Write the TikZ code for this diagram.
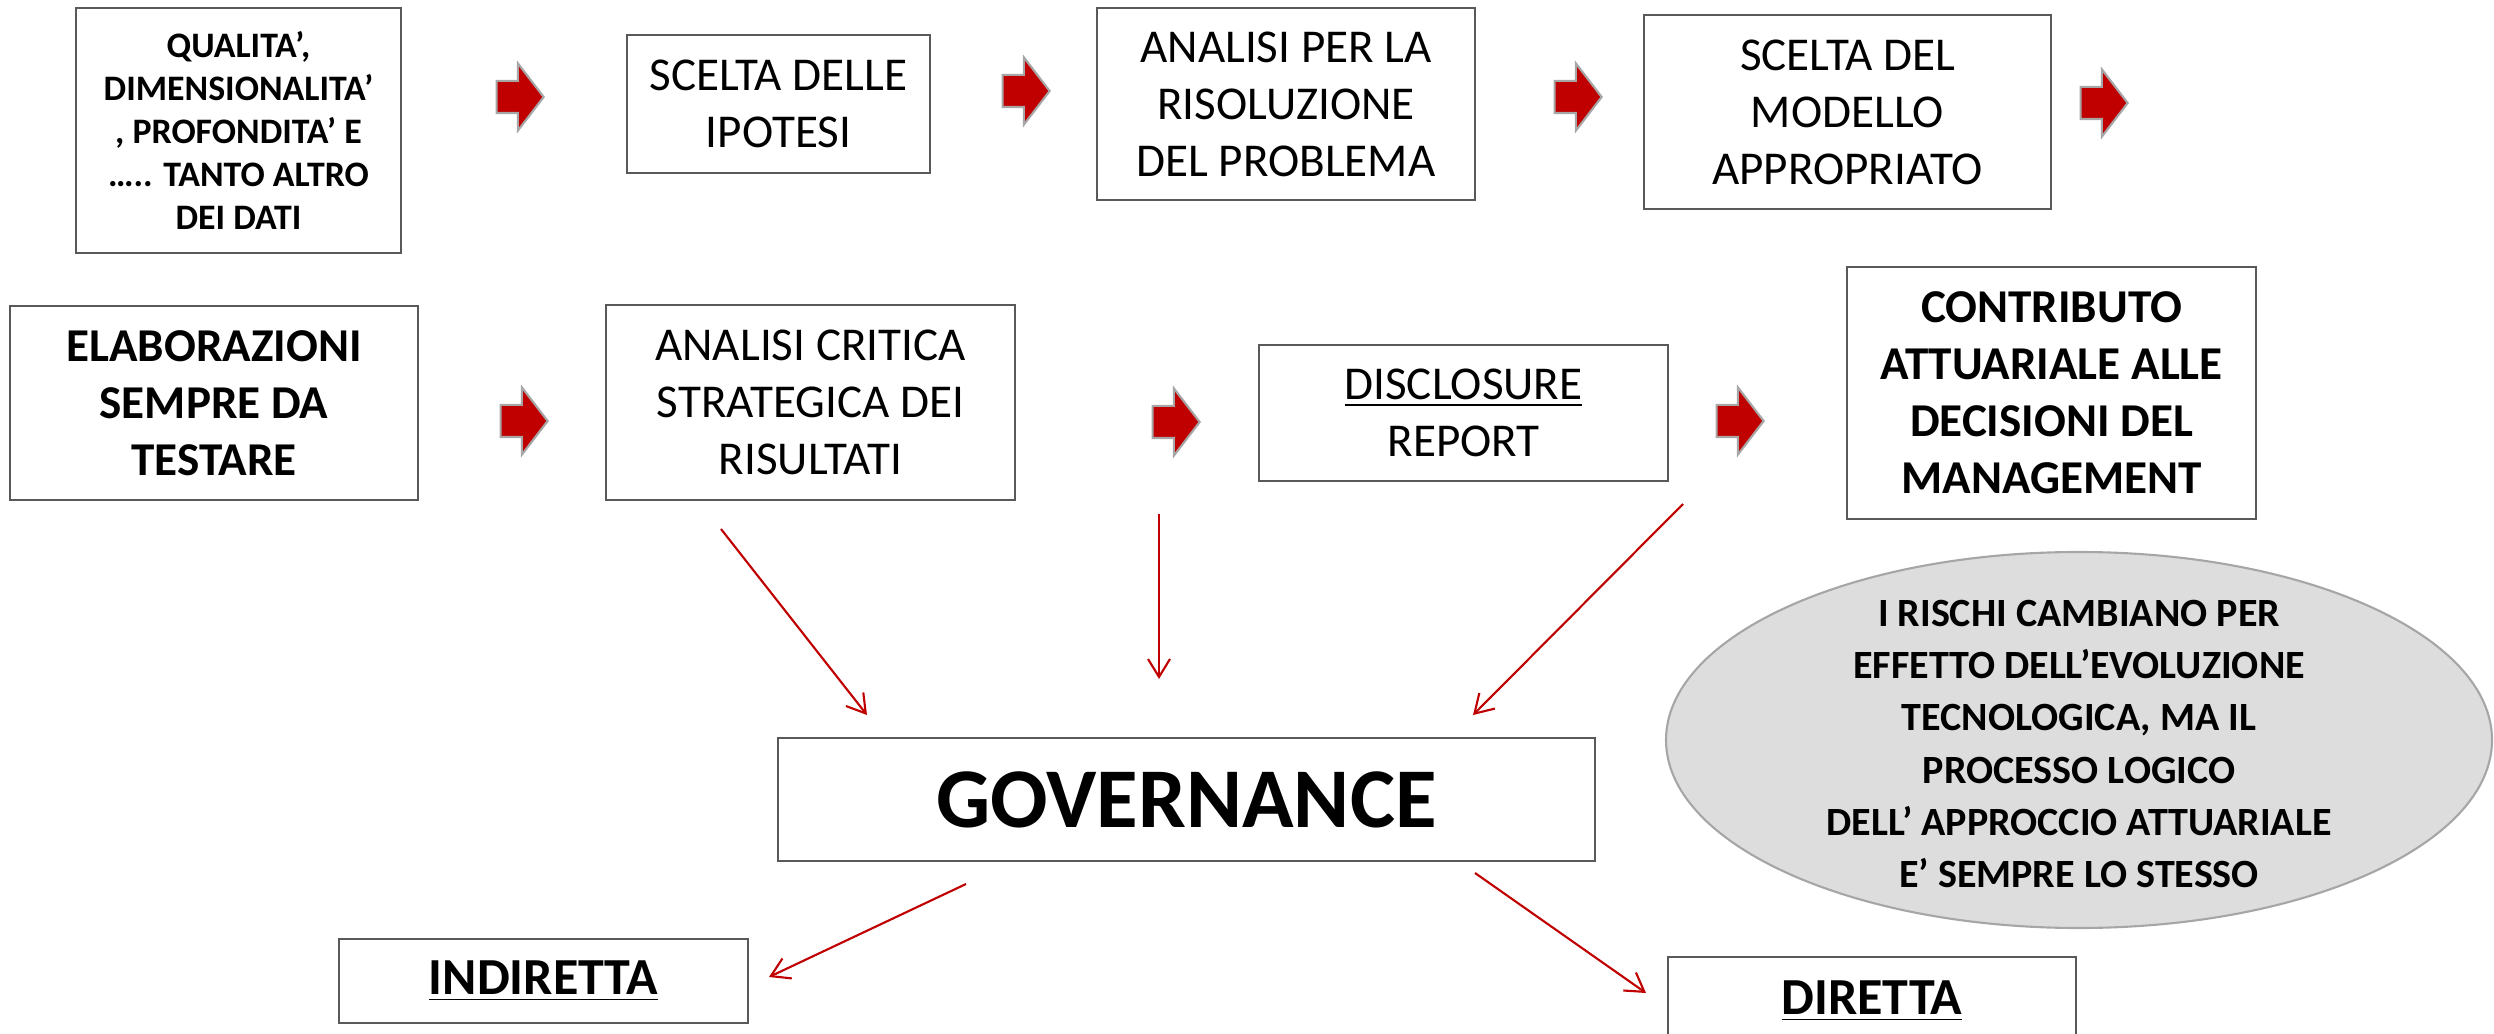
\documentclass[tikz,border=0pt]{standalone}
\usepackage{fontspec}
\setmainfont{Carlito}
\usetikzlibrary{shapes.arrows,shapes.geometric,arrows.meta}
\definecolor{arrowred}{RGB}{192,0,0}
\definecolor{boxgray}{RGB}{89,89,89}
\definecolor{arrowgray}{RGB}{166,166,166}
\definecolor{ovalfill}{RGB}{221,221,221}
\begin{document}
\begin{tikzpicture}\tikzstyle{every node}=[font=\fontsize{13.4}{16.2}\selectfont]
\tikzstyle{box}=[draw=boxgray, line width=0.6pt, align=center, inner sep=0pt]
\tikzstyle{blockarrow}=[single arrow, draw=arrowgray, fill=arrowred, line width=0.6pt, inner sep=0pt, text height=0.3cm, text depth=0pt, minimum height=0.47cm, single arrow head extend=0.175cm, single arrow tip angle=105]
\tikzstyle{link}=[draw=arrowred, line width=0.6pt, -{Straight Barb[length=1.8mm,width=2.2mm]}]
\useasboundingbox (0,0) rectangle (24.94,-10.34);
% dati
  \node[box, minimum width=3.25cm, minimum height=2.45cm, font=\fontsize{10.2}{12.2}\selectfont\bfseries] (dati) at (2.385,-1.305)%
{%
  QUALITA’,\\ DIMENSIONALITA’\\ , PROFONDITA’ E\\ ….. TANTO ALTRO\\ DEI DATI
};
% ipotesi
  \node[box, minimum width=3.03cm, minimum height=1.38cm] (ipotesi) at (7.785,-1.04)%
{%
  SCELTA DELLE\\ IPOTESI
};
% analisi
  \node[box, minimum width=3.78cm, minimum height=1.92cm] (analisi) at (12.86,-1.04)%
{%
  ANALISI PER LA\\ RISOLUZIONE\\ DEL PROBLEMA
};
% modello
  \node[box, minimum width=4.07cm, minimum height=1.94cm] (modello) at (18.475,-1.12)%
{%
  SCELTA DEL\\ MODELLO\\ APPROPRIATO
};
% elaborazioni
  \node[box, minimum width=4.08cm, minimum height=1.94cm, font=\fontsize{13.4}{16.2}\selectfont\bfseries] (elab) at (2.14,-4.03)%
{%
  ELABORAZIONI\\ SEMPRE DA\\ TESTARE
};
% analisi critica
  \node[box, minimum width=4.09cm, minimum height=1.95cm] (critica) at (8.105,-4.025)%
{%
  ANALISI CRITICA\\ STRATEGICA DEI\\ RISULTATI
};
% disclosure
  \node[box, minimum width=4.09cm, minimum height=1.36cm] (report) at (14.635,-4.13)%
{%
  \underline{DISCLOSURE}\\ REPORT
};
% contributo
  \node[box, minimum width=4.09cm, minimum height=2.52cm, font=\fontsize{13.4}{16.2}\selectfont\bfseries] (contrib) at (20.515,-3.93)%
{%
  CONTRIBUTO\\ ATTUARIALE ALLE\\ DECISIONI DEL\\ MANAGEMENT
};
% governance
  \node[box, minimum width=8.17cm, minimum height=1.23cm, font=\fontsize{24.2}{29}\selectfont\bfseries] (gov) at (11.865,-7.995) {GOVERNANCE};
% indiretta / diretta
  \node[box, minimum width=4.09cm, minimum height=0.84cm, font=\fontsize{14.8}{17.8}\selectfont\bfseries] (indir) at (5.435,-9.81) {\underline{INDIRETTA}};
  \node[box, minimum width=4.08cm, minimum height=0.88cm, font=\fontsize{14.8}{17.8}\selectfont\bfseries] (dir) at (18.72,-10.01) {\underline{DIRETTA}};
% rischi
  \node[ellipse, draw=arrowgray, fill=ovalfill, line width=0.6pt, inner sep=0pt, minimum width=8.26cm, minimum height=3.76cm] (rischi) at (20.79,-7.40) {};
  \node[align=center, font=\fontsize{11.4}{14.9}\selectfont\bfseries] (rischitxt) at ([yshift=-0.04cm]rischi.center)%
{%
  I RISCHI CAMBIANO PER\\ EFFETTO DELL’EVOLUZIONE\\ TECNOLOGICA, MA IL\\ PROCESSO LOGICO\\ DELL’ APPROCCIO ATTUARIALE\\ E’ SEMPRE LO STESSO
};
% frecce
  \node[blockarrow] (ar1) at (5.14,-0.97) {};
  \node[blockarrow] (ar2) at (10.20,-0.91) {};
  \node[blockarrow] (ar3) at (15.72,-0.97) {};
  \node[blockarrow] (ar4) at (20.98,-1.03) {};
  \node[blockarrow] (ar5) at (5.18,-4.21) {};
  \node[blockarrow] (ar6) at (11.70,-4.22) {};
  \node[blockarrow] (ar7) at (17.34,-4.21) {};
%%%%%%%%%%%%%%%%
\coordinate (c1a) at (7.21,-5.29);  \coordinate (c1b) at (8.67,-7.15);
\coordinate (c2a) at (11.59,-5.14); \coordinate (c2b) at (11.59,-6.79);
\coordinate (c3a) at (16.83,-5.04); \coordinate (c3b) at (14.73,-7.15);
\coordinate (c4a) at (9.66,-8.84);  \coordinate (c4b) at (7.69,-9.77);
\coordinate (c5a) at (14.75,-8.73); \coordinate (c5b) at (16.46,-9.93);
\draw[link] (c1a) -- (c1b);
\draw[link] (c2a) -- (c2b);
\draw[link] (c3a) -- (c3b);
\draw[link] (c4a) -- (c4b);
\draw[link] (c5a) -- (c5b);
\end{tikzpicture}
\end{document}
